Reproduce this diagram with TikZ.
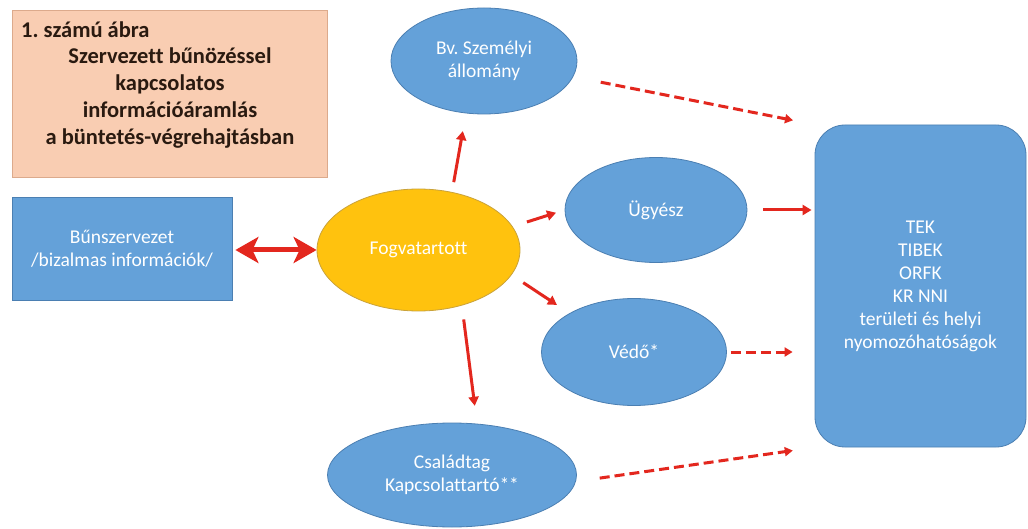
\documentclass[tikz,border=0pt]{standalone}
\usepackage{fontspec}
\setmainfont{Carlito}[Ligatures=NoCommon]
\usetikzlibrary{shapes.geometric,arrows.meta}
\frenchspacing
\definecolor{blueF}{HTML}{64A1D9}
\definecolor{blueD}{HTML}{4B7FB2}
\definecolor{yelF}{HTML}{FFC20E}
\definecolor{yelD}{HTML}{C9A23A}
\definecolor{peachF}{HTML}{F9CDB2}
\definecolor{peachD}{HTML}{DCAA8C}
\definecolor{arrRed}{HTML}{E3271E}
\definecolor{titleTxt}{HTML}{2A1A10}
\begin{document}
\begin{tikzpicture}[x=1pt,y=1pt,
  bluetxt/.style={text=white,font=\fontsize{19.5}{23}\selectfont,align=center},
  blueell/.style={ellipse,fill=blueF,draw=blueD,line width=0.8pt,inner sep=0pt,bluetxt},
  bluerect/.style={rectangle,fill=blueF,draw=blueD,line width=0.8pt,inner sep=0pt,bluetxt},
  titletxt/.style={text=titleTxt,font=\fontsize{22.5}{27}\selectfont\bfseries,inner sep=0pt},
  arr/.style={draw=arrRed,line width=3pt,-{Triangle[length=9pt,width=10pt]}},
  dasharr/.style={draw=arrRed,line width=3pt,dash pattern=on 10pt off 5pt,-{Triangle[length=8pt,width=9pt]}},
  dblarr/.style={draw=arrRed,line width=5pt,{Stealth[length=23pt,width=26pt,inset=6pt]}-{Stealth[length=23pt,width=26pt,inset=6pt]}}
]
\useasboundingbox (0,0) rectangle (1028,-529);
\fill[white] (0,0) rectangle (1028,-529);

% title box
\node[rectangle,fill=peachF,draw=peachD,line width=0.8pt,minimum width=315pt,minimum height=167pt,anchor=north west,inner sep=0pt] (title) at (12,-10) {};
\node[titletxt,anchor=west] (t1) at (21,-30) {1. számú ábra};
\node[titletxt,align=center] (t2) at (170,-98) {Szervezett bűnözéssel\\kapcsolatos\\információáramlás\\a büntetés-végrehajtásban};

% nodes
\node[bluerect,minimum width=220pt,minimum height=103pt] (bsz) at (122,-248.5) {Bűnszervezet\\/bizalmas információk/};
\node[ellipse,fill=yelF,draw=yelD,line width=0.8pt,inner sep=0pt,minimum width=203pt,minimum height=122pt,bluetxt] (fog) at (418.5,-250) {Fogvatartott};
\node[blueell,minimum width=186pt,minimum height=106pt] (bv) at (484,-61) {Bv. Személyi\\állomány};
\node[blueell,minimum width=182pt,minimum height=105pt] (ugy) at (656,-210) {Ügyész};
\node[blueell,minimum width=185pt,minimum height=107pt] (ved) at (634,-352) {Védő*};
\node[blueell,minimum width=249pt,minimum height=104pt] (csal) at (452,-475) {Családtag\\Kapcsolattartó**};
\node[bluerect,rounded corners=30pt,minimum width=211pt,minimum height=322pt] (box) at (920.5,-286) {TEK\\TIBEK\\ORFK\\KR NNI\\területi és helyi\\nyomozóhatóságok};

% connectors
\draw[dblarr,shorten <=3pt] (bsz.east |- fog.center) -- (fog.west);
\draw[arr,shorten <=10pt,shorten >=18pt] (fog.60.6) -- (bv.-109);
\draw[arr,shorten <=15pt,shorten >=9pt] (fog.14) -- (ugy.180);
\draw[arr,shorten <=14pt,shorten >=15pt] (fog.-15) -- (ved.149);
\draw[arr,shorten <=14pt,shorten >=18pt] (fog.-52.6) -- (csal.64);
\draw[arr,shorten <=16pt,shorten >=3pt] (ugy.east) -- (ugy.east -| box.west);
\draw[dasharr,shorten <=28pt,shorten >=22pt] (bv.-10.6) -- (box.north west);
\draw[dasharr,shorten <=4pt,shorten >=22pt] (ved.east) -- (ved.east -| box.west);
\draw[dasharr,shorten <=24pt,shorten >=22pt] (csal.-3) -- (box.south west);
\end{tikzpicture}
\end{document}
